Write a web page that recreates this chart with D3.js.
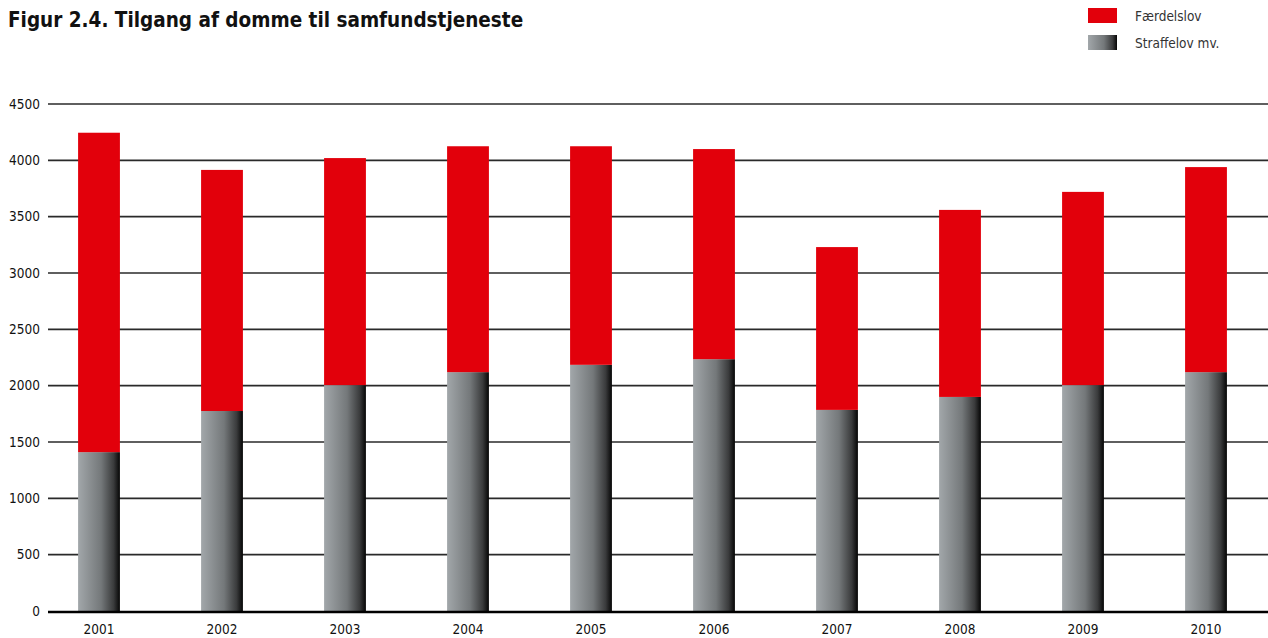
<!DOCTYPE html>
<html>
<head>
<meta charset="utf-8">
<script src="https://d3js.org/d3.v7.min.js"></script>
<style>
  body { margin: 0; background: #fff; }
  text { font-family: "DejaVu Sans Condensed", "DejaVu Sans", sans-serif; }
</style>
</head>
<body>
<div id="chart"></div>
<script>
// data
var years = ["2001", "2002", "2003", "2004", "2005", "2006", "2007", "2008", "2009", "2010"];
var straffelov = [1410, 1775, 2005, 2120, 2185, 2235, 1785, 1900, 2005, 2120];
var faerdselslov = [2835, 2140, 2015, 2005, 1940, 1865, 1445, 1660, 1715, 1820];
var yTicks = [0, 500, 1000, 1500, 2000, 2500, 3000, 3500, 4000, 4500];
var seriesNames = ["Færdelslov", "Straffelov mv."];

var width = 1268, height = 638;

var svg = d3.select("#chart").append("svg")
    .attr("width", width)
    .attr("height", height);

var defs = svg.append("defs");
var grad = defs.append("linearGradient")
    .attr("id", "grayGrad")
    .attr("x1", "0%").attr("x2", "100%").attr("y1", "0%").attr("y2", "0%");
grad.append("stop").attr("offset", "0%").attr("stop-color", "#a2a7aa");
grad.append("stop").attr("offset", "55%").attr("stop-color", "#74787a");
grad.append("stop").attr("offset", "85%").attr("stop-color", "#3a3b3c");
grad.append("stop").attr("offset", "100%").attr("stop-color", "#050505");

var red = "#e2000b";

var x = d3.scaleBand()
    .domain(years)
    .range([37.5, 1267.5])
    .paddingInner(0.66)
    .paddingOuter(0.33);

var y = d3.scaleLinear()
    .domain([0, 4500])
    .range([611, 104]);

// gridlines
svg.append("g")
  .selectAll("line")
  .data(yTicks.filter(function(d) { return d > 0; }))
  .enter().append("line")
    .attr("x1", 48)
    .attr("x2", width)
    .attr("y1", function(d) { return y(d); })
    .attr("y2", function(d) { return y(d); })
    .attr("stroke", "#2a2a2a")
    .attr("stroke-width", 1.6);

// y labels
svg.append("g")
  .selectAll("text")
  .data(yTicks)
  .enter().append("text")
    .attr("x", 40)
    .attr("y", function(d) { return y(d); })
    .attr("dy", "0.35em")
    .attr("text-anchor", "end")
    .attr("font-size", 13.5)
    .attr("fill", "#111")
    .text(function(d) { return d; });

// stacked bars
var bars = svg.append("g");
bars.selectAll(".low")
  .data(years)
  .enter().append("rect")
    .attr("x", function(d) { return x(d); })
    .attr("width", x.bandwidth())
    .attr("y", function(d, i) { return y(straffelov[i]); })
    .attr("height", function(d, i) { return y(0) - y(straffelov[i]); })
    .attr("fill", "url(#grayGrad)");

bars.selectAll(".high")
  .data(years)
  .enter().append("rect")
    .attr("x", function(d) { return x(d); })
    .attr("width", x.bandwidth())
    .attr("y", function(d, i) { return y(straffelov[i] + faerdselslov[i]); })
    .attr("height", function(d, i) { return y(straffelov[i]) - y(straffelov[i] + faerdselslov[i]); })
    .attr("fill", red);

// zero line
svg.append("line")
    .attr("x1", 48).attr("x2", width)
    .attr("y1", y(0) + 1).attr("y2", y(0) + 1)
    .attr("stroke", "#000")
    .attr("stroke-width", 2.5);

// x labels
svg.append("g")
  .selectAll("text")
  .data(years)
  .enter().append("text")
    .attr("x", function(d) { return x(d) + x.bandwidth() / 2; })
    .attr("y", 634)
    .attr("text-anchor", "middle")
    .attr("font-size", 13.5)
    .attr("fill", "#111")
    .text(function(d) { return d; });

// title
svg.append("text")
    .attr("x", 8)
    .attr("y", 27)
    .attr("font-size", 20.5)
    .attr("font-weight", "bold")
    .attr("fill", "#111")
    .text("Figur 2.4. Tilgang af domme til samfundstjeneste");

// legend
var legend = svg.append("g");
var legFills = [red, "url(#grayGrad)"];
legend.selectAll("rect")
  .data(seriesNames)
  .enter().append("rect")
    .attr("x", 1088)
    .attr("y", function(d, i) { return 8 + i * 27; })
    .attr("width", 29)
    .attr("height", 15)
    .attr("fill", function(d, i) { return legFills[i]; });

legend.selectAll("text")
  .data(seriesNames)
  .enter().append("text")
    .attr("x", 1135)
    .attr("y", function(d, i) { return 16 + i * 27; })
    .attr("dy", "0.35em")
    .attr("font-size", 13.5)
    .attr("fill", "#333")
    .text(function(d) { return d; });
</script>
</body>
</html>
